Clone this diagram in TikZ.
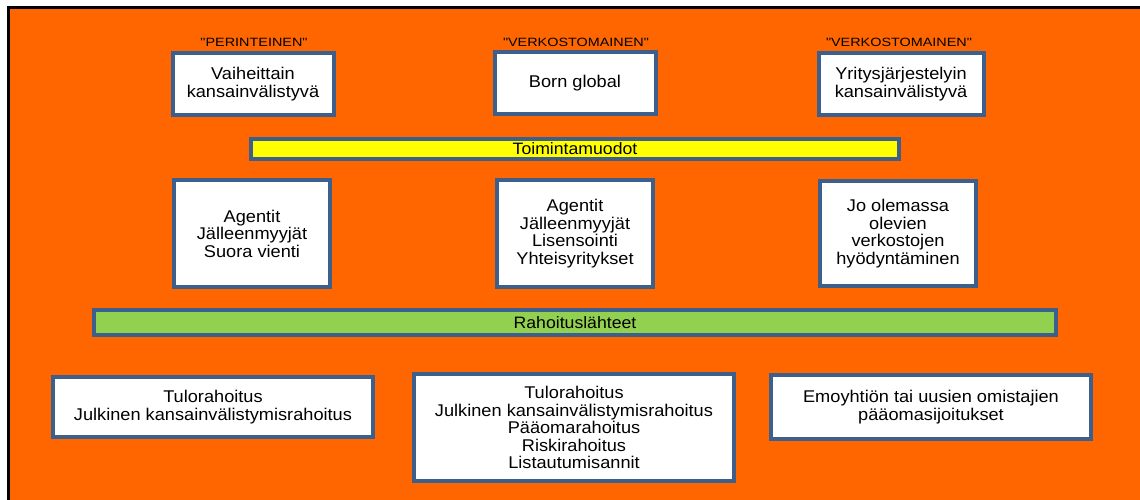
\documentclass[tikz,border=0pt]{standalone}
\usepackage{fontspec}
\setmainfont{Liberation Sans}[FakeStretch=1.07]
\newfontfamily\tagfont{Liberation Sans}[FakeStretch=1.2]
\definecolor{bgorange}{HTML}{FF6600}
\definecolor{boxline}{HTML}{3D5F8C}
\definecolor{baryellow}{HTML}{FFFF00}
\definecolor{bargreen}{HTML}{92D050}
\tikzset{
  box/.style={draw=boxline, line width=4pt, fill=white, align=center, inner sep=0pt,
    font=\fontsize{17}{17.5}\selectfont},
  bar/.style={draw=boxline, line width=4pt, inner sep=0pt, font=\fontsize{16.5}{17}\selectfont},
  tag/.style={inner sep=0pt, font=\tagfont\fontsize{12}{12}\selectfont},
}

\begin{document}
\begin{tikzpicture}[x=1pt, y=-1pt]
	\useasboundingbox (0,0) rectangle (1140,500);
	\clip (0,0) rectangle (1140,500);
	\fill[white] (0,0) rectangle (1140,500);
	\draw[line width=3pt, fill=bgorange] (8.5,7.5) rectangle (1160,520);
	% top row
	\node[tag] (tag1) at (254,42) {"PERINTEINEN"};
	\node[tag] (tag2) at (576,42) {"VERKOSTOMAINEN"};
	\node[tag] (tag3) at (899,42) {"VERKOSTOMAINEN"};
	\node[box, minimum width=161pt, minimum height=62pt] (vaih) at (253,84) {Vaiheittain\\kansainvälistyvä};
	\node[box, minimum width=161pt, minimum height=62pt] (born) at (575,83) {Born global};
	\node[box, minimum width=165pt, minimum height=62pt] (yrit) at (901,84) {Yritysjärjestelyin\\kansainvälistyvä};
	% toimintamuodot
	\node[bar, fill=baryellow, minimum width=648pt, minimum height=20pt] (toim) at (575,149) {Toimintamuodot};
	\node[box, minimum width=156pt, minimum height=107pt] (agent1) at (252,233.5) {Agentit\\Jälleenmyyjät\\Suora vienti};
	\node[box, minimum width=156pt, minimum height=107pt] (agent2) at (575,233.5) {Agentit\\Jälleenmyyjät\\Lisensointi\\Yhteisyritykset};
	\node[box, minimum width=156pt, minimum height=105pt] (verkot) at (898,233.5) {Jo olemassa\\olevien\\verkostojen\\hyödyntäminen};
	% rahoituslähteet
	\node[bar, fill=bargreen, minimum width=962pt, minimum height=25pt] (raho) at (575,322.5) {Rahoituslähteet};
	\node[box, minimum width=320pt, minimum height=60pt] (raho1) at (213,407) {Tulorahoitus\\Julkinen kansainvälistymisrahoitus};
	\node[box, minimum width=320pt, minimum height=107pt] (raho2) at (574,427.5) {Tulorahoitus\\Julkinen kansainvälistymisrahoitus\\Pääomarahoitus\\Riskirahoitus\\Listautumisannit};
	\node[box, minimum width=320pt, minimum height=64pt] (raho3) at (931,407) {Emoyhtiön tai uusien omistajien\\pääomasijoitukset};
\end{tikzpicture}
\end{document}
